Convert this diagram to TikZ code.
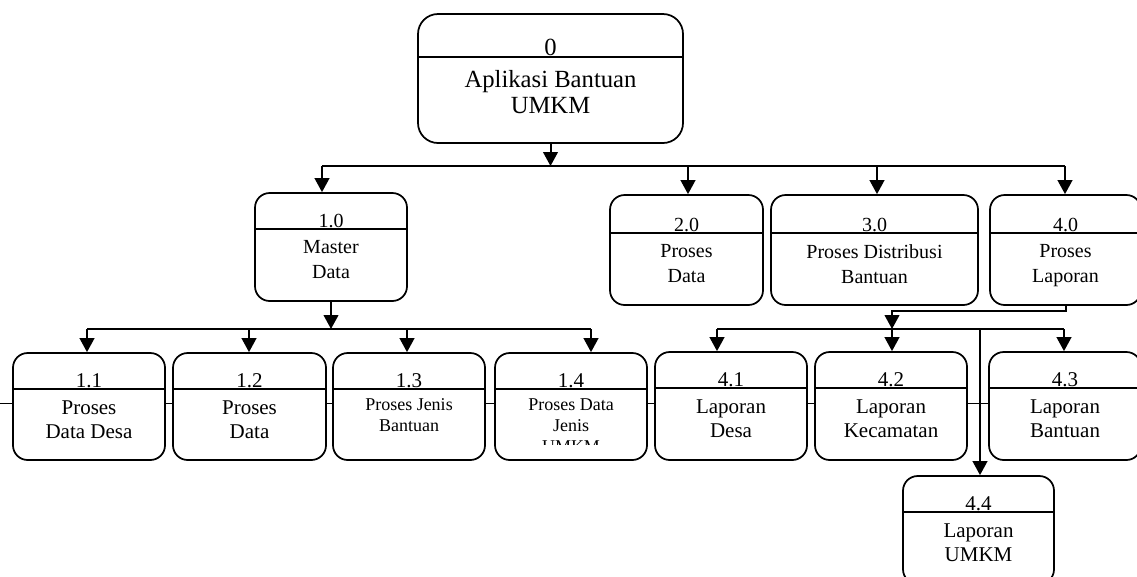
\documentclass[tikz,border=0pt]{standalone}
\usepackage{fontspec}
\setmainfont{Liberation Serif}
\usetikzlibrary{arrows.meta, fit}

\tikzset{
  pbox/.style={draw, line width=1.3pt, rounded corners=11pt, fill=white, inner sep=0pt},
  divline/.style={line width=1.3pt},
  wire/.style={line width=1.5pt},
  arr/.style={wire, -{Triangle[length=10.5pt, width=11pt]}},
  guide/.style={line width=0.6pt},
  num/.style={inner sep=0pt, anchor=base},
  lbl/.style={inner sep=0pt, anchor=north, align=center},
  txt/.style={font=\fontsize{15.75}{18}\selectfont},
  small/.style={font=\fontsize{13.5}{15.75}\selectfont, yshift=1.5pt},
}

% process box: [label style]{name}{left}{top}{right}{bottom}{divider}{number}{label}
\newcommand{\procnode}[9][]{%
  \node[pbox, fit={(#3,#4) (#5,#6)}] (#2) {};
  \node[num, txt] (#2n) at ({(#3+#5)/2},{#7-1.8}) {#8};
  \draw[divline] (#3,#7) -- (#5,#7);
  \begin{scope}
    \clip (#3,#7) rectangle (#5,{#6-16});
    \node[lbl, txt, #1] (#2t) at ({(#3+#5)/2},{#7+11}) {#9};
  \end{scope}
}

\begin{document}
\begin{tikzpicture}[x=0.75pt, y=-0.75pt]
  \useasboundingbox (0,0) rectangle (1137,576);

  % thin rule behind the lower row
  \coordinate (rl) at (0,403);
  \coordinate (rr) at (1137,403);
  \draw[guide] (rl) -- (rr);

  % level 0
  \begin{scope}[txt/.style={font=\fontsize{18.5}{19.5}\selectfont}, pbox/.append style={rounded corners=15pt}]
    \procnode[yshift=-1.5pt]{p0}{418}{14}{683}{143}{57}{0}{Aplikasi Bantuan\\UMKM}
  \end{scope}

  % level 1
  \begin{scope}[txt/.style={font=\fontsize{15}{18.75}\selectfont}]
    \procnode{p10}{255}{193}{407}{301}{229}{1.0}{Master\\Data}
    \procnode{p20}{610}{195}{763}{305}{233}{2.0}{Proses\\Data}
    \procnode{p30}{771}{195}{978}{305}{233}{3.0}{Proses Distribusi\\Bantuan}
    \procnode{p40}{990}{195}{1141}{305}{233}{4.0}{Proses\\Laporan}
  \end{scope}

  % level 2
  \procnode{p11}{13}{353}{165}{460}{389}{1.1}{Proses\\Data Desa}
  \procnode{p12}{173}{353}{326}{460}{389}{1.2}{Proses\\Data}
  \procnode[small]{p13}{333}{353}{485}{460}{389}{1.3}{Proses Jenis\\Bantuan}
  \procnode[small]{p14}{495}{353}{647}{460}{389}{1.4}{Proses Data\\Jenis\\UMKM}
  \procnode{p41}{655}{352}{807}{460}{388}{4.1}{Laporan\\Desa}
  \procnode{p42}{815}{352}{967}{460}{388}{4.2}{Laporan\\Kecamatan}
  \procnode{p43}{989}{352}{1141}{460}{388}{4.3}{Laporan\\Bantuan}
  \procnode{p44}{903}{476}{1054}{584}{512}{4.4}{Laporan\\UMKM}

  % bus from 0
  \coordinate (b1l) at (322,166);
  \coordinate (b1b) at (688,166);
  \coordinate (b1c) at (877,166);
  \coordinate (b1r) at (1065,166);
  \draw[arr] (p0.south) -- (p0.south |- b1l);
  \draw[wire] (b1l) -- (b1r);
  \draw[arr] (b1l) -- (b1l |- p10.north);
  \draw[arr] (b1b) -- (b1b |- p20.north);
  \draw[arr] (b1c) -- (b1c |- p30.north);
  \draw[arr] (b1r) -- (b1r |- p40.north);

  % bus from 1.0
  \coordinate (b2l) at (87,329);
  \coordinate (b2b) at (249,329);
  \coordinate (b2c) at (407,329);
  \coordinate (b2r) at (591,329);
  \draw[arr] (p10.south) -- (p10.south |- b2l);
  \draw[wire] (b2l) -- (b2r);
  \draw[arr] (b2l) -- (b2l |- p11.north);
  \draw[arr] (b2b) -- (b2b |- p12.north);
  \draw[arr] (b2c) -- (b2c |- p13.north);
  \draw[arr] (b2r) -- (b2r |- p14.north);

  % bus from 4.0
  \coordinate (k40) at (1063,311);
  \coordinate (b3l) at (717,329);
  \coordinate (b3m) at (892,329);
  \coordinate (b3v) at (980,329);
  \coordinate (b3r) at (1064,329);
  \draw[arr] (p40.south) -- (p40.south |- k40) -| (b3m);
  \draw[wire] (b3l) -- (b3r);
  \draw[arr] (b3l) -- (b3l |- p41.north);
  \draw[arr] (b3m) -- (b3m |- p42.north);
  \draw[arr] (b3r) -- (b3r |- p43.north);
  \draw[arr] (b3v) -- (b3v |- p44.north);
\end{tikzpicture}
\end{document}
